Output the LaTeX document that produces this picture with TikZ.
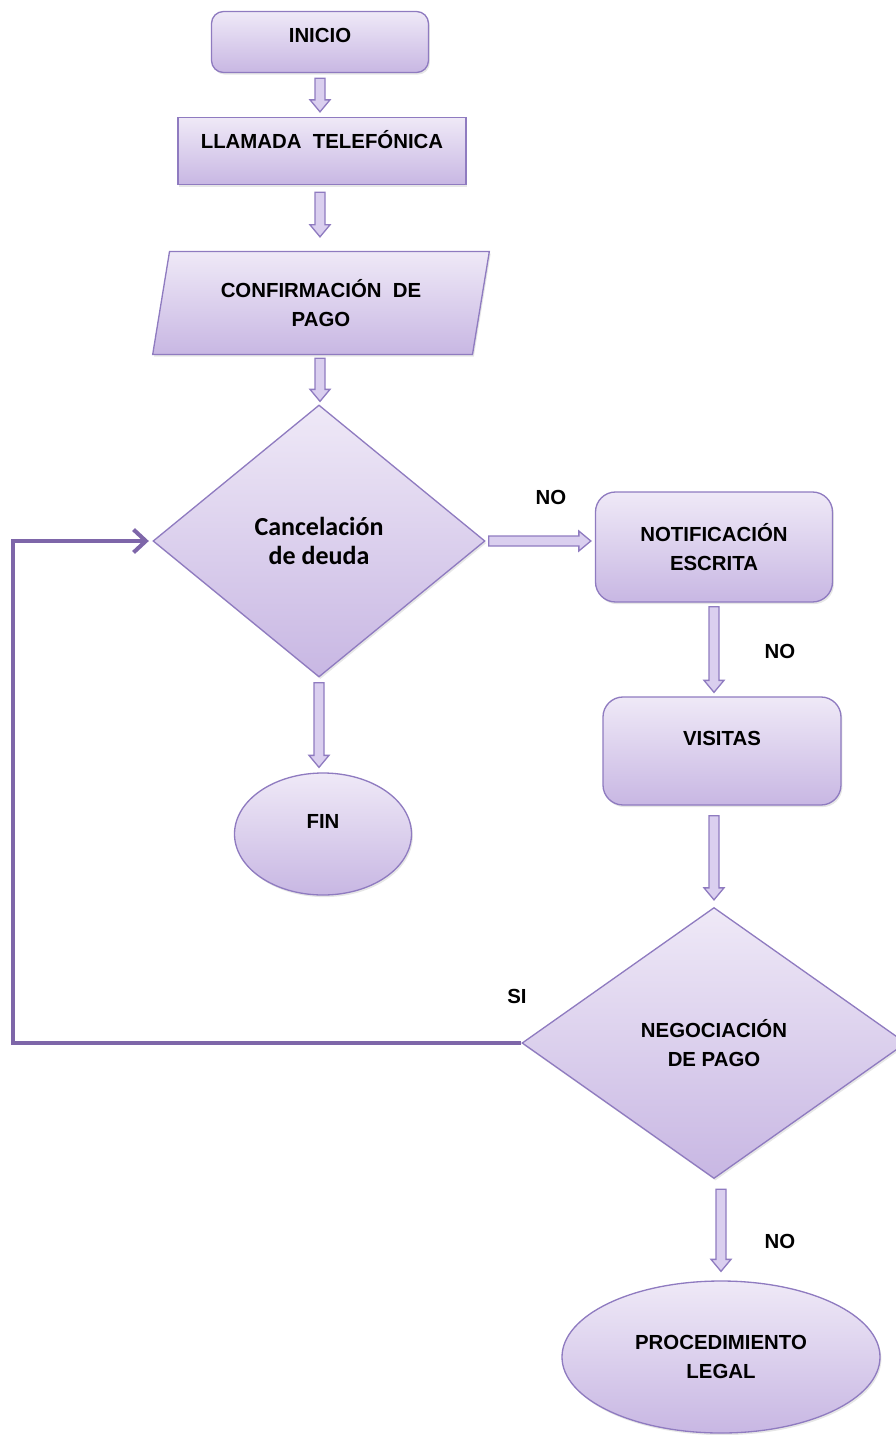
\documentclass[tikz,border=0pt]{standalone}
\usepackage{fontspec}
\setmainfont{Liberation Sans}
\newfontfamily\calibri{Carlito}
\usetikzlibrary{shapes.geometric,shadows,calc,arrows.meta}

\definecolor{lilaTop}{HTML}{EFE9F7}
\definecolor{lilaBot}{HTML}{C8B7E3}
\definecolor{lilaBorde}{HTML}{8F7BC0}
\definecolor{lilaFlecha}{HTML}{DACFEF}
\definecolor{lilaLinea}{HTML}{7E66A9}

\tikzset{
  caja/.style={draw=lilaBorde, line width=0.75pt, top color=lilaTop, bottom color=lilaBot,
    drop shadow={opacity=0.2, shadow xshift=0.8pt, shadow yshift=-1.2pt},
    font=\bfseries\fontsize{11.6}{16.5}\selectfont, align=center, inner sep=2pt},
  textlift/.style={text height=8.3pt, text depth=#1},
  flecha/.style={fill=lilaFlecha, draw=lilaBorde, line width=0.75pt,
    to path={
      ($(\tikztostart)!0.1cm!90:(\tikztotarget)$)
      -- ($($(\tikztotarget)!0.24cm!(\tikztostart)$)!0.1cm!90:(\tikztotarget)$)
      -- ($($(\tikztotarget)!0.24cm!(\tikztostart)$)!0.2cm!90:(\tikztotarget)$)
      -- (\tikztotarget)
      -- ($($(\tikztotarget)!0.24cm!(\tikztostart)$)!0.2cm!-90:(\tikztotarget)$)
      -- ($($(\tikztotarget)!0.24cm!(\tikztostart)$)!0.1cm!-90:(\tikztotarget)$)
      -- ($(\tikztostart)!0.1cm!-90:(\tikztotarget)$) -- cycle}},
  bucle/.style={draw=lilaLinea, line width=2.3pt, -{Straight Barb[length=7pt,width=13pt]}},
  etiqueta/.style={font=\bfseries\fontsize{11.6}{14}\selectfont}
}

\begin{document}
\begin{tikzpicture}[x=0.2mm, y=-0.2mm]
\useasboundingbox (0,0) rectangle (896,1435);

% Left column
\node[caja, rounded corners=0.24cm, minimum width=4.34cm, minimum height=1.22cm, textlift=0.26cm] (inicio) at (320,42) {INICIO};
\node[caja, minimum width=5.76cm, minimum height=1.34cm, textlift=0.38cm] (llamada) at (322,151) {LLAMADA~ TELEFÓNICA};
\node[caja, trapezium, trapezium left angle=78, trapezium right angle=102, trapezium stretches=true,
  minimum width=6.74cm, minimum height=2.06cm] (confirma) at (321,303) {CONFIRMACIÓN~ DE\\PAGO};
\node[caja, diamond, minimum width=6.64cm, minimum height=5.44cm,
  font=\calibri\bfseries\fontsize{14.8}{17}\selectfont] (cancela) at (319,541) {Cancelación\\de deuda};
\node[caja, ellipse, minimum width=3.54cm, minimum height=2.44cm, textlift=0.52cm] (fin) at (323,834) {FIN};

% Right column
\node[caja, rounded corners=0.4cm, minimum width=4.74cm, minimum height=2.2cm] (notifica) at (714,547) {NOTIFICACIÓN\\ESCRITA};
\node[caja, rounded corners=0.4cm, minimum width=4.76cm, minimum height=2.16cm, textlift=0.52cm] (visitas) at (722,751) {VISITAS};
\node[caja, diamond, minimum width=7.68cm, minimum height=5.42cm] (negocia) at (714,1043) {NEGOCIACIÓN\\DE PAGO};
\node[caja, ellipse, minimum width=6.36cm, minimum height=3.04cm] (legal) at (721,1357) {PROCEDIMIENTO\\LEGAL};

% Labels
\node[etiqueta] (no1) at (551,497) {NO};
\node[etiqueta] (no2) at (780,651) {NO};
\node[etiqueta] (si) at (517,996) {SI};
\node[etiqueta] (no3) at (780,1241) {NO};

% Arrows
\draw[flecha] ([yshift=-0.1cm]inicio.south) to ([yshift=0.1cm]inicio.south |- llamada.north);
\draw[flecha] ([yshift=-0.14cm]inicio.south |- llamada.south) to ([yshift=0.28cm]inicio.south |- confirma.north);
\draw[flecha] ([yshift=-0.06cm]inicio.south |- confirma.south) to ([yshift=0.06cm]inicio.south |- cancela.north);
\draw[flecha] ([yshift=-0.1cm]cancela.south) to ([yshift=0.1cm]cancela.south |- fin.north);
\draw[flecha] ([xshift=0.06cm]cancela.east) to ([xshift=-0.08cm]cancela.east -| notifica.west);
\draw[flecha] ([yshift=-0.08cm]notifica.south) to ([yshift=0.08cm]notifica.south |- visitas.north);
\draw[flecha] ([yshift=-0.2cm]negocia.north |- visitas.south) to ([yshift=0.14cm]negocia.north);
\draw[flecha] ([yshift=-0.2cm]negocia.south -| legal.north) to ([yshift=0.18cm]legal.north);

% Loop back
\coordinate (retorno) at (13,1043);
\draw[bucle, shorten >=2pt] (negocia.west) -- (retorno) |- (cancela.west);
\end{tikzpicture}
\end{document}
